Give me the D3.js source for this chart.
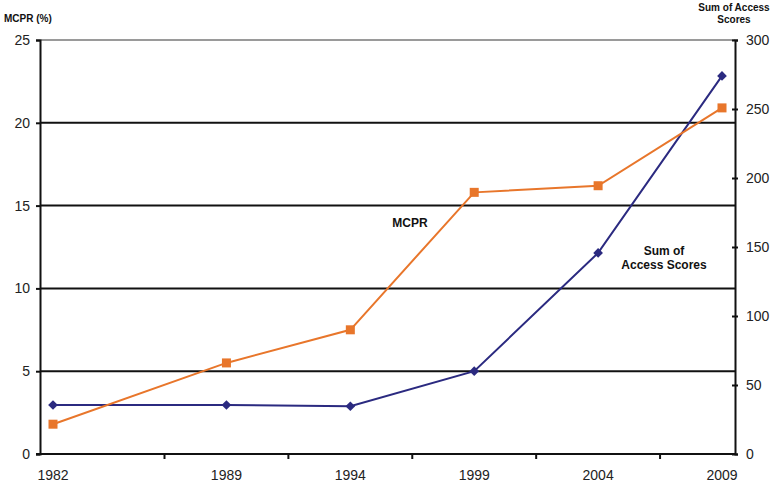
<!DOCTYPE html>
<html><head><meta charset="utf-8">
<script src="https://cdn.jsdelivr.net/npm/d3@7"></script>
<style>body{margin:0;background:#fff}svg{display:block}text{font-family:Arial,"Liberation Sans",sans-serif}</style>
</head><body><svg id="c" width="774" height="487"></svg>
<script>
const years = [1982, 1989, 1994, 1999, 2004, 2009];
const mcpr = [1.8, 5.5, 7.5, 15.8, 16.2, 20.9];
const accessScores = [35.5, 35.5, 34.6, 60, 145.7, 274];
const leftTicks = [0, 5, 10, 15, 20, 25];
const rightTicks = [0, 50, 100, 150, 200, 250, 300];
const xBoundaryTicks = [1986.5, 1991.5, 1996.5, 2001.5, 2006.5];

const svg = d3.select("#c");
const L = 40, R = 735, T = 40, B = 454;
const x = d3.scaleLinear().domain([1982, 2009]).range([53, 722]);
const yL = d3.scaleLinear().domain([0, 25]).range([B, T]);
const yR = d3.scaleLinear().domain([0, 300]).range([B, T]);

// gridlines
svg.append("g").selectAll("line").data(leftTicks.filter(d => d > 0)).join("line")
  .attr("x1", L).attr("x2", R).attr("y1", d => yL(d)).attr("y2", d => yL(d))
  .attr("stroke", d => d === 25 ? "#9a9a9a" : "#111").attr("stroke-width", 2);

// left axis
const gL = svg.append("g").attr("transform", `translate(${L},0)`)
  .call(d3.axisLeft(yL).tickValues(leftTicks).tickSize(4).tickPadding(6).tickFormat(d3.format("d")));
gL.select(".domain").attr("stroke", "#111").attr("stroke-width", 2);
gL.selectAll(".tick line").attr("stroke", "#111").attr("stroke-width", 2);
gL.selectAll("text").attr("font-size", 14).attr("fill", "#222");

// right axis
const gR = svg.append("g").attr("transform", `translate(${R},0)`)
  .call(d3.axisRight(yR).tickValues(rightTicks).tickSize(3).tickPadding(8));
gR.select(".domain").attr("stroke", "#111").attr("stroke-width", 2);
gR.selectAll(".tick line").attr("x1", -3).attr("stroke", "#111").attr("stroke-width", 2);
gR.selectAll("text").attr("font-size", 14).attr("fill", "#222");

// bottom axis
const gB = svg.append("g").attr("transform", `translate(0,${B})`);
gB.append("line").attr("x1", L - 4).attr("x2", R).attr("y1", 0).attr("y2", 0).attr("stroke", "#111").attr("stroke-width", 2);
gB.selectAll("line.t").data(xBoundaryTicks).join("line").attr("class", "t")
  .attr("x1", d => x(d)).attr("x2", d => x(d)).attr("y1", 0).attr("y2", 5)
  .attr("stroke", "#111").attr("stroke-width", 2);
gB.selectAll("text").data(years).join("text")
  .attr("x", d => x(d)).attr("y", 26).attr("text-anchor", "middle")
  .attr("font-size", 14).attr("fill", "#222").text(d => d);

// lines
const orange = "#E8762B", navy = "#2B2A80";
const lineM = d3.line().x((d, i) => x(years[i])).y(d => yL(d));
const lineA = d3.line().x((d, i) => x(years[i])).y(d => yR(d));
svg.append("path").datum(accessScores).attr("d", lineA).attr("fill", "none").attr("stroke", navy).attr("stroke-width", 2);
svg.append("path").datum(mcpr).attr("d", lineM).attr("fill", "none").attr("stroke", orange).attr("stroke-width", 2);

svg.append("g").selectAll("path").data(accessScores).join("path")
  .attr("d", d3.symbol(d3.symbolDiamond2 || d3.symbolDiamond, 60)())
  .attr("transform", (d, i) => `translate(${x(years[i])},${yR(d)})`)
  .attr("fill", navy);
svg.append("g").selectAll("rect").data(mcpr).join("rect")
  .attr("x", (d, i) => x(years[i]) - 4.5).attr("y", d => yL(d) - 4.5)
  .attr("width", 9).attr("height", 9).attr("fill", orange);

// labels
svg.append("text").attr("x", 4).attr("y", 22).attr("font-size", 10).attr("font-weight", "bold").attr("fill", "#111").text("MCPR (%)");
svg.append("text").attr("x", 734).attr("y", 11).attr("text-anchor", "middle").attr("font-size", 10).attr("font-weight", "bold").attr("fill", "#111").text("Sum of Access");
svg.append("text").attr("x", 734).attr("y", 23).attr("text-anchor", "middle").attr("font-size", 10).attr("font-weight", "bold").attr("fill", "#111").text("Scores");
svg.append("text").attr("x", 410).attr("y", 227).attr("text-anchor", "middle").attr("font-size", 12).attr("font-weight", "bold").attr("fill", "#111").text("MCPR");
svg.append("text").attr("x", 664).attr("y", 255).attr("text-anchor", "middle").attr("font-size", 12).attr("font-weight", "bold").attr("fill", "#111").text("Sum of");
svg.append("text").attr("x", 664).attr("y", 269).attr("text-anchor", "middle").attr("font-size", 12).attr("font-weight", "bold").attr("fill", "#111").text("Access Scores");
</script></body></html>
